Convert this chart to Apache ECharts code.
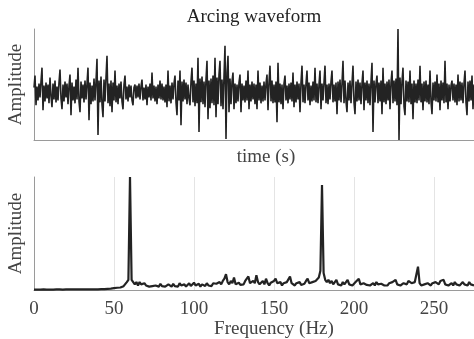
<!DOCTYPE html>
<html>
<head>
<meta charset="utf-8">
<script src="https://cdn.jsdelivr.net/npm/echarts/dist/echarts.min.js"></script>
<style>
  html, body { margin: 0; padding: 0; background: #fff; }
  #chart { width: 474px; height: 339px; }
</style>
</head>
<body>
<div id="chart"></div>
<script>
// Sampled arcing current (arbitrary amplitude units), one sample every 0.25 ms
const sampleStep = 0.00025;
const waveform = [
  5, 17, -13, 6, -8, 9, -5, 11, 25, -18,
  7, -9, 10, -6, 8, -11, 15, -4, -15, 9,
  -7, 12, -10, 6, -8, 10, 23, -6, -17, 8,
  -9, 11, -5, 9, -12, 7, 18, -23, 10, -8,
  6, -11, 13, -7, 25, -9, -20, 11, -6, 8,
  -10, 12, -7, 9, 25, -28, 10, -12, 7, -9,
  14, -8, 11, 34, -43, 12, -10, 16, -12, -25,
  13, -9, 15, 37, -11, 9, -14, 12, -20, 10,
  -8, 22, -10, 7, -12, 9, -6, 11, -9, -17,
  8, 17, -7, 6, -9, 8, -5, 7, -8, -13,
  5, 8, -6, 7, -5, 9, -7, 6, 13, -8,
  5, -7, 8, -13, 6, -5, 9, -8, 20, -6,
  7, -9, 6, -12, 8, -6, 12, -7, 9, -8,
  6, -10, 8, -15, 22, -9, 7, -11, 10, -7,
  9, 17, -10, -23, 12, -8, 22, -33, 11, -9,
  13, -7, 10, -12, 8, -6, -13, 11, 25, -10,
  12, -14, 9, -11, 35, -40, 14, -10, 16, -12,
  11, -15, 13, 32, -27, 12, -16, 14, -11, 17,
  -13, 35, -25, 15, -12, 18, 32, -14, 13, -17,
  16, 47, -47, 20, 37, -20, 14, -12, 11, 20,
  -17, 9, -11, 8, -9, 10, 18, -20, 9, -8,
  7, -10, 12, -8, 22, -17, 8, -9, 11, -7,
  9, -12, 8, -17, 22, -8, 10, -11, 7, -9,
  11, -8, 9, 18, -18, 10, 27, -9, 12, -11,
  8, -10, 11, -30, 30, -10, 9, -12, 8, -17,
  9, 17, -8, 7, -11, 9, -7, 10, -9, 20,
  -15, 8, -10, 11, -7, 9, -20, 10, 27, -10,
  8, -11, 9, 22, -8, 10, -13, 7, -9, 11,
  -8, 25, -10, 9, -11, 8, 22, -17, 9, -8,
  10, 27, -11, 8, -12, 9, -7, 11, 22, -10,
  8, -9, 10, -22, 11, -8, 13, -10, 9, 32,
  -11, 12, -9, -20, 10, -8, 12, -11, 9, 27,
  -10, -22, 11, -9, 13, -8, 10, -12, 9, 22,
  -18, 10, -8, 12, -11, 9, -13, 11, 30, -40,
  12, -10, 9, 17, -11, 10, -9, 12, -22, 25,
  -10, 9, -12, 11, -8, 13, -17, 10, 22, -11,
  12, -9, 14, -13, 64, -48, 15, -12, 11, 25,
  -14, -23, 12, -9, 11, -10, 22, -12, 9, -27,
  12, -10, 9, -11, 13, -8, 27, -10, 9, -18,
  11, -9, 12, -10, 8, -12, 22, -9, -22, 10,
  -8, 11, -9, 18, -10, 9, -18, 12, -8, 10,
  -11, 32, -10, 9, -17, 8, -9, 7, 12, -8,
  9, -10, 8, -13, 18, -9, 11, -8, 10, -11,
  9, 22, -10, -23, 11, -9, 12, -8, 17, -17,
  8
];
const waveformSpan = 0.116; // s, full width of the time axis
const waveformMin = -48;
const waveformMax = 64;

// Magnitude spectrum (normalised), one bin per Hz from 0 Hz
const freqStep = 1;
const spectrum = [
  0.004, 0.004, 0.004, 0.005, 0.004, 0.004, 0.005, 0.004, 0.004, 0.005,
  0.004, 0.005, 0.004, 0.004, 0.005, 0.004, 0.005, 0.005, 0.004, 0.005,
  0.005, 0.004, 0.005, 0.005, 0.005, 0.004, 0.005, 0.005, 0.005, 0.005,
  0.005, 0.005, 0.006, 0.005, 0.005, 0.006, 0.005, 0.006, 0.006, 0.006,
  0.006, 0.006, 0.007, 0.007, 0.008, 0.009, 0.010, 0.011, 0.012, 0.014,
  0.016, 0.018, 0.020, 0.024, 0.022, 0.030, 0.034, 0.050, 0.070, 0.090,
  1.0, 0.09, 0.08, 0.05, 0.07, 0.04, 0.07, 0.05, 0.04, 0.06,
  0.04, 0.05, 0.03, 0.045, 0.035, 0.03, 0.04, 0.025, 0.03, 0.055,
  0.035, 0.045, 0.03, 0.025, 0.05, 0.04, 0.03, 0.055, 0.035, 0.045,
  0.03, 0.06, 0.04, 0.035, 0.05, 0.03, 0.045, 0.06, 0.035, 0.05,
  0.065, 0.04, 0.035, 0.055, 0.03, 0.05, 0.045, 0.035, 0.06, 0.04,
  0.05, 0.035, 0.06, 0.045, 0.055, 0.04, 0.07, 0.05, 0.08, 0.10,
  0.14, 0.07, 0.05, 0.08, 0.06, 0.11, 0.05, 0.04, 0.065, 0.045,
  0.06, 0.05, 0.08, 0.07, 0.12, 0.06, 0.05, 0.08, 0.06, 0.13,
  0.07, 0.05, 0.06, 0.08, 0.05, 0.10, 0.06, 0.04, 0.065, 0.05,
  0.08, 0.10, 0.06, 0.05, 0.07, 0.04, 0.06, 0.05, 0.07, 0.08,
  0.12, 0.06, 0.05, 0.04, 0.06, 0.05, 0.07, 0.045, 0.06, 0.055,
  0.08, 0.10, 0.06, 0.05, 0.07, 0.06, 0.08, 0.09, 0.11, 0.17,
  0.93, 0.15, 0.09, 0.07, 0.09, 0.06, 0.08, 0.05, 0.06, 0.09,
  0.05, 0.06, 0.04, 0.07, 0.05, 0.06, 0.09, 0.05, 0.06, 0.04,
  0.05, 0.07, 0.06, 0.10, 0.05, 0.04, 0.06, 0.05, 0.045, 0.06,
  0.04, 0.05, 0.06, 0.04, 0.07, 0.05, 0.04, 0.055, 0.065, 0.04,
  0.05, 0.04, 0.06, 0.05, 0.07, 0.06, 0.09, 0.05, 0.06, 0.04,
  0.05, 0.06, 0.07, 0.05, 0.08, 0.09, 0.06, 0.05, 0.07, 0.06,
  0.206, 0.06, 0.04, 0.03, 0.05, 0.04, 0.06, 0.05, 0.04, 0.06,
  0.05, 0.07, 0.06, 0.05, 0.08, 0.07, 0.09, 0.05, 0.06, 0.04,
  0.05, 0.06, 0.04, 0.07, 0.05, 0.06, 0.04, 0.05, 0.07, 0.05,
  0.06, 0.04, 0.07, 0.05, 0.06, 0.04
];
const freqMax = 300;
const freqInterval = 50;

const serif = 'Liberation Serif';
const spine = { show: true, onZero: false, lineStyle: { color: '#9a9a9a', width: 1 } };
const labelFont = { fontFamily: serif, fontSize: 19, color: '#444' };

const chart = echarts.init(document.getElementById('chart'), null, { renderer: 'canvas' });
chart.setOption({
  animation: false,
  backgroundColor: '#fff',
  graphic: [{
    type: 'text', x: 254, y: 17,
    style: {
      text: 'Arcing waveform', font: '19px "Liberation Serif"', fill: '#222',
      textAlign: 'center', textVerticalAlign: 'middle'
    }
  }],
  grid: [
    { left: 34, top: 29, width: 464, height: 111, outerBoundsMode: 'none', containLabel: false },
    { left: 34, top: 177, width: 480, height: 113, outerBoundsMode: 'none', containLabel: false }
  ],
  xAxis: [{
    gridIndex: 0, type: 'value', min: 0, max: waveformSpan,
    name: 'time (s)', nameLocation: 'middle', nameGap: 8, nameTextStyle: labelFont,
    axisLine: spine, axisTick: { show: false }, axisLabel: { show: false }, splitLine: { show: false }
  }, {
    gridIndex: 1, type: 'value', min: 0, max: freqMax, interval: freqInterval,
    name: 'Frequency (Hz)', nameLocation: 'middle', nameGap: 29, nameTextStyle: labelFont,
    axisLine: spine, axisTick: { show: false },
    axisLabel: Object.assign({ margin: 10 }, labelFont),
    splitLine: { show: true, lineStyle: { color: '#e4e4e4', width: 1 } }
  }],
  yAxis: [{
    gridIndex: 0, type: 'value', min: waveformMin, max: waveformMax,
    name: 'Amplitude', nameLocation: 'middle', nameGap: 8, nameRotate: 90, nameTextStyle: labelFont,
    axisLine: spine, axisTick: { show: false }, axisLabel: { show: false }, splitLine: { show: false }
  }, {
    gridIndex: 1, type: 'value', min: 0, max: 1,
    name: 'Amplitude', nameLocation: 'middle', nameGap: 8, nameRotate: 90, nameTextStyle: labelFont,
    axisLine: spine, axisTick: { show: false }, axisLabel: { show: false }, splitLine: { show: false }
  }],
  series: [{
    type: 'line', xAxisIndex: 0, yAxisIndex: 0, showSymbol: false, silent: true,
    lineStyle: { color: '#232323', width: 1.6 },
    data: waveform.map((v, i) => [i * sampleStep, v])
  }, {
    type: 'line', xAxisIndex: 1, yAxisIndex: 1, showSymbol: false, silent: true,
    lineStyle: { color: '#232323', width: 2.2 },
    data: spectrum.map((v, i) => [i * freqStep, v])
  }]
});
</script>
</body>
</html>
